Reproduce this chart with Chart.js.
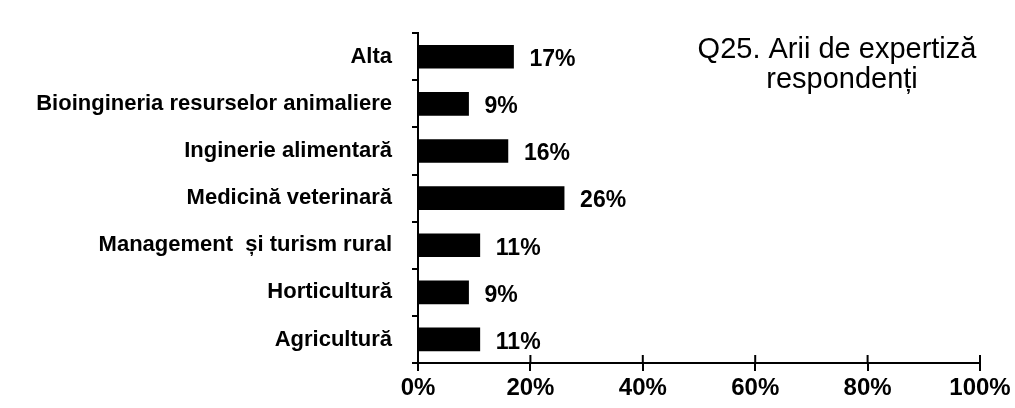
<!DOCTYPE html>
<html>
<head>
<meta charset="utf-8">
<script src="https://cdn.jsdelivr.net/npm/chart.js@4/dist/chart.umd.min.js"></script>
<style>
  html, body { margin: 0; padding: 0; background: #ffffff; }
  #wrap { width: 1015px; height: 408px; }
</style>
</head>
<body>
<div id="wrap"><canvas id="expertizaChart" width="1015" height="408"></canvas></div>
<script>
// Data (percent of respondents)
const categories = [
    'Alta',
    'Bioingineria resurselor animaliere',
    'Inginerie alimentară',
    'Medicină veterinară',
    'Management  și turism rural',
    'Horticultură',
    'Agricultură'
];
const shares = [17, 9, 16, 26, 11, 9, 11];
const titleLines = ['Q25. Arii de expertiză', 'respondenți'];

const fontFamily = "'Liberation Sans', Arial, sans-serif";

// Percent labels to the right of each bar
const valueLabels = {
    id: 'valueLabels',
    afterDatasetsDraw(chart) {
        const ctx = chart.ctx;
        const meta = chart.getDatasetMeta(0);
        ctx.save();
        ctx.fillStyle = '#000000';
        ctx.font = 'bold 23px ' + fontFamily;
        ctx.textAlign = 'left';
        ctx.textBaseline = 'middle';
        meta.data.forEach((bar, i) => {
            ctx.fillText(shares[i] + '%', bar.x + 16, bar.y + 3);
        });
        ctx.restore();
    }
};

// Upward half of the x axis tick marks (they cross the axis line)
const crossTicks = {
    id: 'crossTicks',
    afterDraw(chart) {
        const ctx = chart.ctx;
        const x = chart.scales.x;
        ctx.save();
        ctx.strokeStyle = '#000000';
        ctx.lineWidth = 2;
        x.ticks.forEach(t => {
            const px = x.getPixelForValue(t.value);
            ctx.beginPath();
            ctx.moveTo(px, x.top);
            ctx.lineTo(px, x.top - 8);
            ctx.stroke();
        });
        ctx.restore();
    }
};

// Two-line title at the upper right
const sideTitle = {
    id: 'sideTitle',
    afterDraw(chart) {
        const ctx = chart.ctx;
        ctx.save();
        ctx.fillStyle = '#000000';
        ctx.font = '29px ' + fontFamily;
        ctx.textAlign = 'center';
        ctx.textBaseline = 'alphabetic';
        ctx.fillText(titleLines[0], 837, 58);
        ctx.fillText(titleLines[1], 842, 88);
        ctx.restore();
    }
};

new Chart(document.getElementById('expertizaChart'), {
    type: 'bar',
    data: {
        labels: categories,
        datasets: [{
            data: shares,
            backgroundColor: '#000000',
            borderWidth: 0,
            barThickness: 23
        }]
    },
    options: {
        indexAxis: 'y',
        responsive: false,
        animation: false,
        devicePixelRatio: 1,
        layout: { padding: { top: 22, right: 35, left: 0, bottom: 0 } },
        plugins: {
            legend: { display: false },
            tooltip: { enabled: false },
            title: { display: false }
        },
        scales: {
            x: {
                min: 0,
                max: 100,
                ticks: {
                    stepSize: 20,
                    color: '#000000',
                    padding: 3,
                    maxRotation: 0,
                    font: { family: fontFamily, size: 24, weight: 'bold' },
                    callback: v => v + '%'
                },
                grid: {
                    drawOnChartArea: false,
                    color: '#000000',
                    lineWidth: 2,
                    tickLength: 8
                },
                border: { color: '#000000', width: 2 },
                afterFit(scale) { scale.height = 45; }
            },
            y: {
                offset: true,
                ticks: {
                    color: '#000000',
                    padding: 20,
                    font: { family: fontFamily, size: 22, weight: 'bold' }
                },
                grid: {
                    offset: true,
                    drawOnChartArea: false,
                    color: '#000000',
                    lineWidth: 2,
                    tickLength: 6
                },
                border: { color: '#000000', width: 2 },
                afterFit(scale) { scale.width = 418; }
            }
        }
    },
    plugins: [valueLabels, crossTicks, sideTitle]
});
</script>
</body>
</html>
